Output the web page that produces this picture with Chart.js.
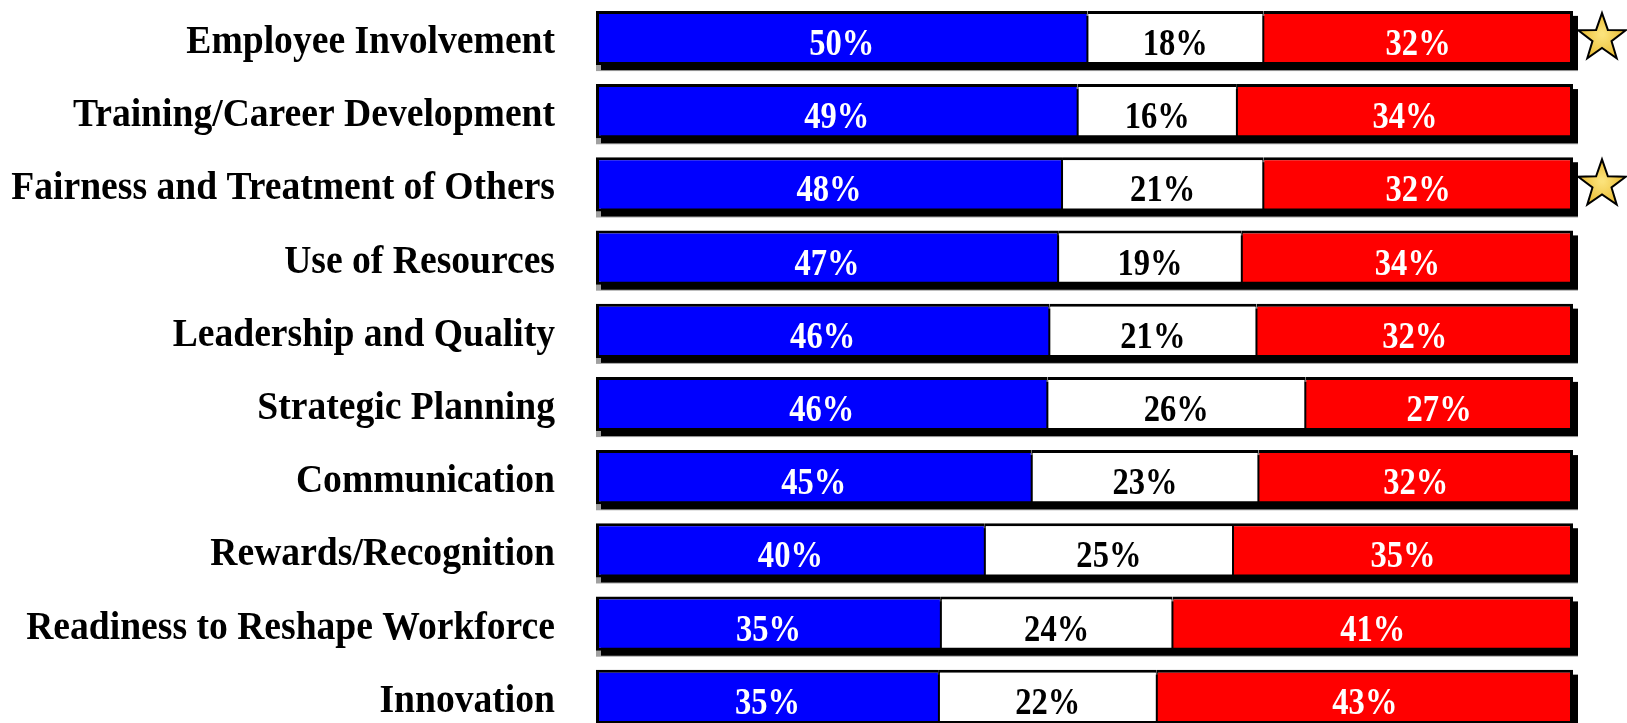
<!DOCTYPE html>
<html>
<head>
<meta charset="utf-8">
<script src="https://cdn.jsdelivr.net/npm/chart.js@4/dist/chart.umd.min.js"></script>
<style>
  html, body { margin: 0; padding: 0; background: #fff; overflow: hidden; }
  #wrap { width: 1627px; height: 735px; }
</style>
</head>
<body>
<div id="wrap"><canvas id="survey" width="1627" height="735"></canvas></div>
<script>
// survey categories, top to bottom
const categories = [
  'Employee Involvement',
  'Training/Career Development',
  'Fairness and Treatment of Others',
  'Use of Resources',
  'Leadership and Quality',
  'Strategic Planning',
  'Communication',
  'Rewards/Recognition',
  'Readiness to Reshape Workforce',
  'Innovation'
]
// percent of responses (labels are the rounded values)
const favorable   = [50.3, 49.3, 47.7, 47.3, 46.4, 46.2, 44.6, 39.8, 35.3, 35.1]
const neutral     = [18.0, 16.3, 20.6, 18.8, 21.2, 26.4, 23.2, 25.4, 23.7, 22.3]
const unfavorable = [31.7, 34.4, 31.7, 33.9, 32.4, 27.4, 32.2, 34.8, 41.0, 42.6]
// categories marked with a star
const starred = ['Employee Involvement', 'Fairness and Treatment of Others']

const textColors = ['#ffffff', '#000000', '#ffffff']

const drawStar = (ctx, cx, cy, R) => {
  const r = R * 0.4
  ctx.beginPath()
  for (let k = 0; k < 10; k++) {
    const rad = k % 2 === 0 ? R : r
    const a = -Math.PI / 2 + k * Math.PI / 5
    const px = cx + rad * Math.cos(a)
    const py = cy + rad * Math.sin(a)
    k === 0 ? ctx.moveTo(px, py) : ctx.lineTo(px, py)
  }
  ctx.closePath()
  const g = ctx.createRadialGradient(cx, cy - 4, 2, cx, cy, R)
  g.addColorStop(0, '#fbe27a')
  g.addColorStop(1, '#e9b92c')
  ctx.fillStyle = g
  ctx.fill()
  ctx.lineWidth = 2
  ctx.strokeStyle = '#000'
  ctx.stroke()
}

const decorations = {
  id: 'decorations',
  beforeDatasetsDraw(chart) {
    const ctx = chart.ctx
    const first = chart.getDatasetMeta(0).data
    const last = chart.getDatasetMeta(chart.data.datasets.length - 1).data
    ctx.save()
    first.forEach((el, i) => {
      const left = el.base
      const right = last[i].x
      const top = el.y - el.height / 2
      const bottom = el.y + el.height / 2
      // drop shadow
      ctx.fillStyle = '#a0a0a0'
      ctx.fillRect(left, top + 5, right + 5 - left, bottom + 1 - top)
      ctx.fillStyle = '#000'
      ctx.fillRect(left + 5, top + 5, right - left, bottom - top)
    })
    ctx.restore()
  },
  afterDatasetsDraw(chart) {
    const ctx = chart.ctx
    ctx.save()
    // value labels
    chart.data.datasets.forEach((ds, d) => {
      chart.getDatasetMeta(d).data.forEach((el, i) => {
        const cx = (el.x + el.base) / 2
        ctx.save()
        ctx.translate(cx, el.y + 17)
        ctx.scale(0.88, 1)
        ctx.font = 'bold 37px "Liberation Serif"'
        ctx.textAlign = 'center'
        ctx.textBaseline = 'alphabetic'
        ctx.fillStyle = textColors[d]
        ctx.fillText(Math.round(ds.data[i]) + '%', 0, 0)
        ctx.restore()
      })
    })
    // category labels and stars
    const first = chart.getDatasetMeta(0).data
    const last = chart.getDatasetMeta(chart.data.datasets.length - 1).data
    categories.forEach((name, i) => {
      const y = first[i].y
      ctx.save()
      ctx.translate(555, y + 15)
      ctx.scale(0.94, 1)
      ctx.font = 'bold 40px "Liberation Serif"'
      ctx.textAlign = 'right'
      ctx.fillStyle = '#000'
      ctx.fillText(name, 0, 0)
      ctx.restore()
      if (starred.includes(name)) {
        drawStar(ctx, last[i].x + 29, y, 25)
      }
    })
    ctx.restore()
  }
}

const makeSet = (label, data, color, border) => ({
  label: label,
  data: data,
  backgroundColor: color,
  borderColor: '#000',
  borderWidth: border,
  borderSkipped: false,
  barPercentage: 0.74,
  categoryPercentage: 1
})

const ctx = document.querySelector('#survey')
const surveyChart = new Chart(ctx, {
  type: 'bar',
  data: {
    labels: categories,
    datasets: [
      makeSet('Favorable', favorable, '#0000ff', {top: 3, bottom: 3, left: 3, right: 1}),
      makeSet('Neutral', neutral, '#ffffff', {top: 3, bottom: 3, left: 1, right: 1}),
      makeSet('Unfavorable', unfavorable, '#ff0000', {top: 3, bottom: 3, left: 1, right: 3})
    ]
  },
  options: {
    indexAxis: 'y',
    responsive: false,
    devicePixelRatio: 1,
    animation: false,
    layout: {padding: {left: 596, right: 54, top: 1.4, bottom: 1.6}},
    scales: {
      x: {stacked: true, min: 0, max: 100, display: false},
      y: {stacked: true, display: false}
    },
    plugins: {
      legend: {display: false},
      tooltip: {enabled: false}
    }
  },
  plugins: [decorations]
})
</script>
</body>
</html>
